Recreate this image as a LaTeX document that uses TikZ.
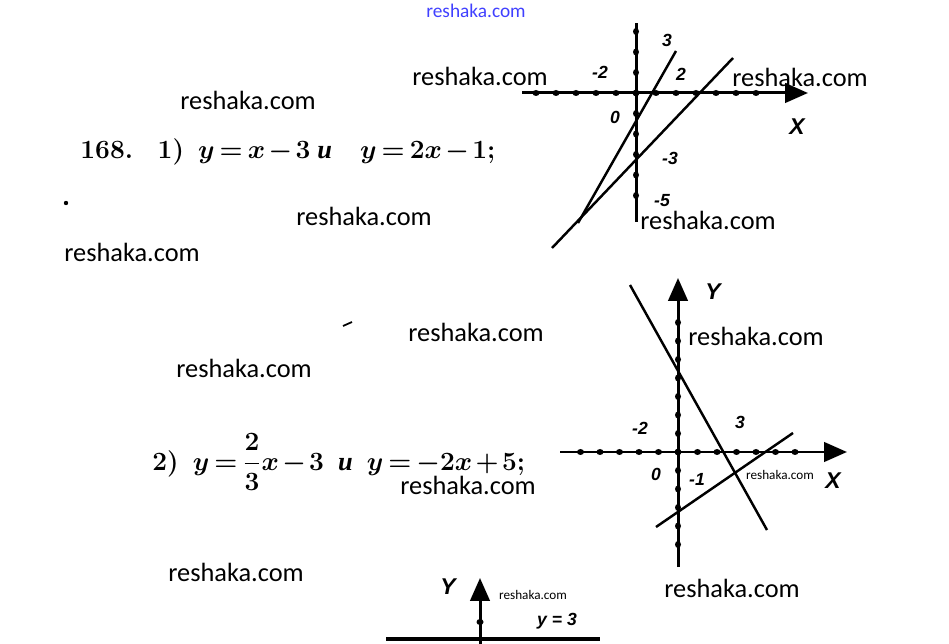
\documentclass[tikz,border=0pt]{standalone}
\usepackage{fix-cm}
\usepackage{amsmath}
\usepackage{fontspec}
\usetikzlibrary{arrows.meta}
\newfontfamily\markfont{Carlito}
\newfontfamily\labelfont{Liberation Sans}
\newfontfamily\cyrfont{Liberation Serif}
\newcommand{\tightmath}{\thickmuskip=3mu\relax\medmuskip=2mu\relax}
\tikzset{
    every node/.style={inner sep=0pt,},
    wmark/.style={font=\markfont\fontsize{15}{15}\selectfont,},
    smallwmark/.style={font=\markfont\fontsize{7.5}{8}\selectfont,},
    topwmark/.style={font=\markfont\fontsize{11}{11}\selectfont,text=blue!75!white,},
    eqn/.style={font=\fontsize{15}{18}\selectfont\bfseries\boldmath,execute at begin node=\tightmath,anchor=west,},
    lbl/.style={font=\labelfont\bfseries\itshape\fontsize{10}{10}\selectfont,},
    axislabel/.style={font=\labelfont\bfseries\itshape\fontsize{13}{13}\selectfont,},
    axisline/.style={line width=1.7pt,},
    arrowaxis/.style={axisline,-{Triangle[length=13pt,width=11pt]},},
    graphline/.style={line width=1.4pt,},
}

\begin{document}
\begin{tikzpicture}[x=0.02cm,y=-0.02cm]
    \useasboundingbox (0,0) rectangle (949,644);

    % watermarks
    \node[topwmark] (wm0) at (476,11) {reshaka.com};
    \node[wmark] (wm1) at (480,76) {reshaka.com};
    \node[wmark] (wm2) at (800,77) {reshaka.com};
    \node[wmark] (wm3) at (248,100) {reshaka.com};
    \node[wmark] (wm4) at (364,216) {reshaka.com};
    \node[wmark] (wm5) at (708,220) {reshaka.com};
    \node[wmark] (wm6) at (132,252) {reshaka.com};
    \node[wmark] (wm7) at (476,332) {reshaka.com};
    \node[wmark] (wm8) at (756,336) {reshaka.com};
    \node[wmark] (wm9) at (244,368) {reshaka.com};
    \node[wmark] (wm10) at (468,485) {reshaka.com};
    \node[wmark] (wm11) at (236,572) {reshaka.com};
    \node[wmark] (wm12) at (732,588) {reshaka.com};
    \node[smallwmark] (wm13) at (780,475) {reshaka.com};
    \node[smallwmark] (wm14) at (533,595) {reshaka.com};

    % tasks
    \node[eqn] (task1) at (80,152) {168.\hspace{14pt}1)\hspace{8pt}$y=x-3$\hspace{4pt}{\cyrfont\itshape и}\hspace{16pt}$y=2x-1$;};
    \node[eqn] (task2) at (152,462) {2)\hspace{8pt}$y=\dfrac{2}{3}x-3$\hspace{8pt}{\cyrfont\itshape и}\hspace{8pt}$y=-2x+5$;};
    \fill (66,203) circle (2.2);
    \draw[line width=1pt] (343,326) -- (352,322);

    % graph 1
    \coordinate (xa1) at (522,93);
    \coordinate (xb1) at (808,93);
    \coordinate (ya1) at (636,222);
    \coordinate (yb1) at (636,23);
    \draw[arrowaxis] (xa1) -- (xb1);
    \draw[axisline] (ya1) -- (yb1);
    \foreach \k in {-5,...,6} \fill (636+20*\k,93) ellipse (3.5 and 3);
    \foreach \k in {-5,...,3} \fill (636,93-20.5*\k) ellipse (3 and 3.5);
    \draw[graphline] (733,58) -- (552,248);
    \draw[graphline] (676,51) -- (578,223);
    \node[lbl] (l1a) at (667,40) {3};
    \node[lbl] (l1b) at (681,74) {2};
    \node[lbl] (l1c) at (600,72) {-2};
    \node[lbl] (l1d) at (615,117) {0};
    \node[lbl] (l1e) at (670,158) {-3};
    \node[lbl] (l1f) at (662,201) {-5};
    \node[axislabel] (x1) at (797,127) {X};

    % graph 2
    \coordinate (xa2) at (560,452);
    \coordinate (xb2) at (847,452);
    \coordinate (ya2) at (678,567);
    \coordinate (yb2) at (678,278);
    \draw[arrowaxis] (xa2) -- (xb2);
    \draw[arrowaxis] (ya2) -- (yb2);
    \foreach \k in {-5,...,6} \fill (678+19.5*\k,452) ellipse (3.5 and 3);
    \foreach \k in {-5,...,7} \fill (678,452-18.5*\k) ellipse (3 and 3.5);
    \draw[graphline] (630,285) -- (767,530);
    \draw[graphline] (656,527) -- (793,433);
    \node[lbl] (l2a) at (740,422) {3};
    \node[lbl] (l2b) at (640,428) {-2};
    \node[lbl] (l2c) at (656,474) {0};
    \node[lbl] (l2d) at (697,479) {-1};
    \node[axislabel] (x2) at (833,481) {X};
    \node[axislabel] (y2) at (713,292) {Y};

    % graph 3
    \coordinate (ya3) at (480,644);
    \coordinate (yb3) at (480,578);
    \coordinate (la3) at (386,639);
    \coordinate (lb3) at (600,639);
    \draw[arrowaxis] (ya3) -- (yb3);
    \draw[line width=2.2pt] (la3) -- (lb3);
    \fill (480,622) ellipse (3.5 and 3);
    \node[axislabel] (y3) at (448,587) {Y};
    \node[lbl] (l3a) at (557,621) {y = 3};
\end{tikzpicture}
\end{document}
